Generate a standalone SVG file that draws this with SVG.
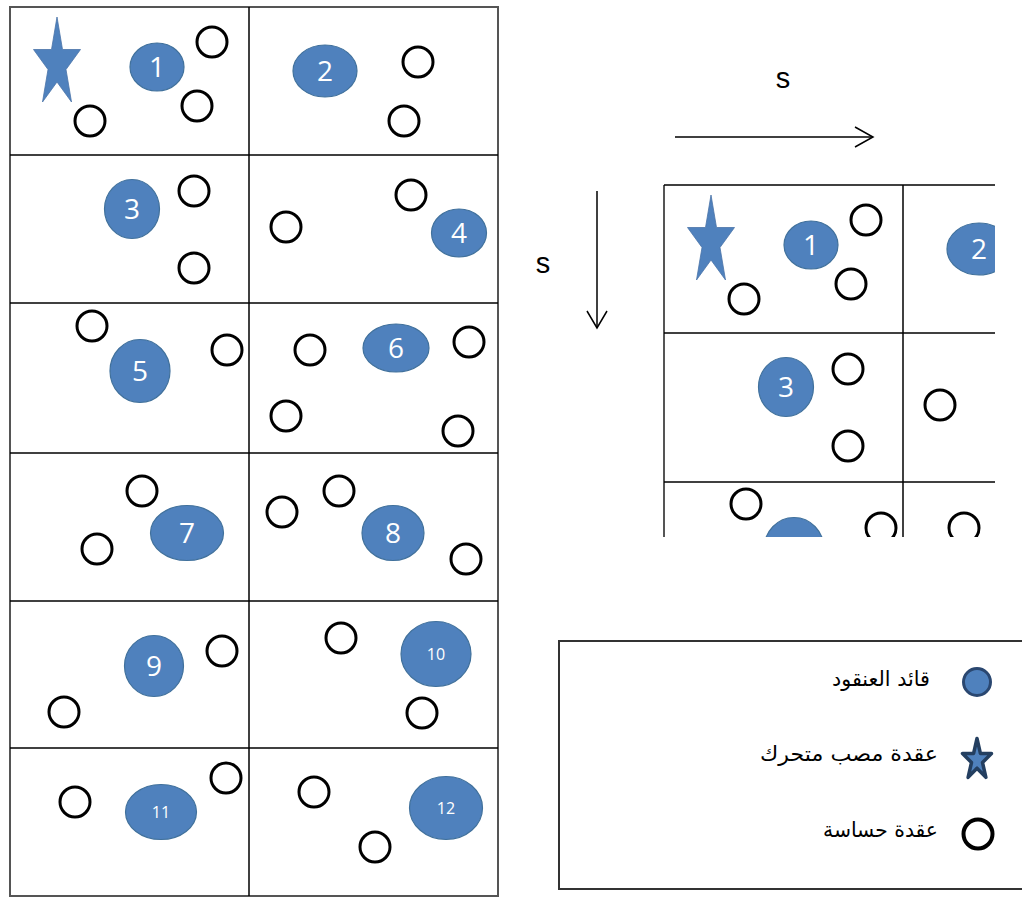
<svg xmlns="http://www.w3.org/2000/svg" width="1022" height="897" viewBox="0 0 1022 897">
<style>
.grid{stroke:#000;stroke-width:1.5;fill:none}
.outer{stroke:#555;stroke-width:2;fill:none}
.sn{fill:none;stroke:#000;stroke-width:3}
.ch{fill:#4f81bd;stroke:#41719c;stroke-width:1.2}
.mob{fill:#4f81bd;stroke:#4a74a8;stroke-width:0.8}
.num{fill:#fff;font-family:"Open Sans","Liberation Sans",sans-serif;font-size:28px;text-anchor:middle}
.num2{font-size:16px}
.lbl{fill:#000;font-family:"Liberation Sans","DejaVu Sans",sans-serif;font-size:29px;text-anchor:middle}
.ar{fill:#000;font-family:"DejaVu Sans","Liberation Sans",sans-serif;font-size:21px;text-anchor:end}
.arrow{stroke:#000;stroke-width:1.5;fill:none}
</style>
<defs>
<clipPath id="clipR"><rect x="655" y="180" width="340" height="357"/></clipPath>
</defs>
<rect width="1022" height="897" fill="#fff"/>

<!-- Left grid -->
<g id="grid-left">
<rect class="outer" x="10" y="7" width="488" height="889"/>
<line class="grid" x1="249" y1="7" x2="249" y2="896"/>
<line class="grid" x1="10" y1="155" x2="498" y2="155"/>
<line class="grid" x1="10" y1="303" x2="498" y2="303"/>
<line class="grid" x1="10" y1="453" x2="498" y2="453"/>
<line class="grid" x1="10" y1="601" x2="498" y2="601"/>
<line class="grid" x1="10" y1="748" x2="498" y2="748"/>
</g>

<g id="cell1">
<polygon class="mob" points="57,17 62.5,49.5 80.5,49.5 66,69.5 71.5,102 57,82 42.5,102 48,69.5 33.5,49.5 51.5,49.5"/>
<ellipse class="ch" cx="157" cy="67" rx="27" ry="24"/>
<text class="num" x="157" y="77">1</text>
<circle class="sn" cx="212" cy="42" r="15"/>
<circle class="sn" cx="197" cy="106" r="15"/>
<circle class="sn" cx="90" cy="121" r="15"/>
</g>
<g id="cell2">
<ellipse class="ch" cx="325" cy="71" rx="32" ry="26"/>
<text class="num" x="325" y="81">2</text>
<circle class="sn" cx="418" cy="62" r="15"/>
<circle class="sn" cx="404" cy="121" r="15"/>
</g>
<g id="cell3">
<ellipse class="ch" cx="132" cy="209" rx="27.5" ry="29.5"/>
<text class="num" x="132" y="219">3</text>
<circle class="sn" cx="194" cy="191" r="15"/>
<circle class="sn" cx="194" cy="268" r="15"/>
</g>
<g id="cell4">
<circle class="sn" cx="411" cy="195" r="15"/>
<circle class="sn" cx="286" cy="227" r="15"/>
<ellipse class="ch" cx="459" cy="233" rx="27.5" ry="24"/>
<text class="num" x="459" y="243">4</text>
</g>
<g id="cell5">
<circle class="sn" cx="92" cy="326" r="15"/>
<circle class="sn" cx="227" cy="350" r="15"/>
<ellipse class="ch" cx="140" cy="371" rx="30" ry="31.5"/>
<text class="num" x="140" y="381">5</text>
</g>
<g id="cell6">
<circle class="sn" cx="310" cy="350" r="15"/>
<circle class="sn" cx="286" cy="416" r="15"/>
<circle class="sn" cx="469" cy="342" r="15"/>
<circle class="sn" cx="458" cy="431" r="15"/>
<ellipse class="ch" cx="396" cy="348" rx="33" ry="24"/>
<text class="num" x="396" y="358">6</text>
</g>
<g id="cell7">
<circle class="sn" cx="142" cy="491" r="15"/>
<circle class="sn" cx="97" cy="549" r="15"/>
<ellipse class="ch" cx="187" cy="533" rx="36.5" ry="27.5"/>
<text class="num" x="187" y="543">7</text>
</g>
<g id="cell8">
<circle class="sn" cx="282" cy="512" r="15"/>
<circle class="sn" cx="339" cy="491" r="15"/>
<circle class="sn" cx="466" cy="559" r="15"/>
<ellipse class="ch" cx="393" cy="533" rx="31" ry="27.5"/>
<text class="num" x="393" y="543">8</text>
</g>
<g id="cell9">
<ellipse class="ch" cx="154" cy="666" rx="29.5" ry="30.5"/>
<text class="num" x="154" y="676">9</text>
<circle class="sn" cx="222" cy="651" r="15"/>
<circle class="sn" cx="64" cy="712" r="15"/>
</g>
<g id="cell10">
<circle class="sn" cx="341" cy="638" r="15"/>
<circle class="sn" cx="422" cy="713" r="15"/>
<ellipse class="ch" cx="436" cy="654" rx="35" ry="32.5"/>
<text class="num num2" x="436" y="660">10</text>
</g>
<g id="cell11">
<circle class="sn" cx="75" cy="802" r="15"/>
<circle class="sn" cx="226" cy="778" r="15"/>
<ellipse class="ch" cx="161" cy="812" rx="35.5" ry="27.5"/>
<text class="num num2" x="161" y="818">11</text>
</g>
<g id="cell12">
<circle class="sn" cx="314" cy="792" r="15"/>
<circle class="sn" cx="375" cy="847" r="15"/>
<ellipse class="ch" cx="446" cy="808" rx="36.5" ry="31.5"/>
<text class="num num2" x="446" y="814">12</text>
</g>

<!-- Right zoomed grid -->
<g id="grid-right" clip-path="url(#clipR)">
<line class="outer" x1="664" y1="185" x2="664" y2="540"/>
<line class="grid" x1="903" y1="185" x2="903" y2="540"/>
<line class="grid" x1="664" y1="185" x2="1000" y2="185"/>
<line class="grid" x1="664" y1="333" x2="1000" y2="333"/>
<line class="grid" x1="664" y1="482" x2="1000" y2="482"/>
<g id="r-cell1">
<polygon class="mob" points="711,195 716.5,227.5 734.5,227.5 720,247.5 725.5,280 711,260 696.5,280 702,247.5 687.5,227.5 705.5,227.5"/>
<ellipse class="ch" cx="811" cy="245" rx="27" ry="24"/>
<text class="num" x="811" y="255">1</text>
<circle class="sn" cx="866" cy="220" r="15"/>
<circle class="sn" cx="851" cy="284" r="15"/>
<circle class="sn" cx="744" cy="299" r="15"/>
</g>
<g id="r-cell2">
<ellipse class="ch" cx="979" cy="249" rx="32" ry="26"/>
<text class="num" x="979" y="259">2</text>
</g>
<g id="r-cell3">
<ellipse class="ch" cx="786" cy="387" rx="27.5" ry="29.5"/>
<text class="num" x="786" y="397">3</text>
<circle class="sn" cx="848" cy="369" r="15"/>
<circle class="sn" cx="848" cy="446" r="15"/>
</g>
<g id="r-cell4">
<circle class="sn" cx="940" cy="405" r="15"/>
</g>
<g id="r-cell5">
<circle class="sn" cx="746" cy="504" r="15"/>
<circle class="sn" cx="881" cy="528" r="15"/>
<ellipse class="ch" cx="794" cy="549" rx="30" ry="31.5"/>
</g>
<g id="r-cell6">
<circle class="sn" cx="964" cy="528" r="15"/>
</g>
</g>

<!-- Connectors -->
<g id="connectors">
<line class="arrow" x1="675" y1="137" x2="872" y2="137"/>
<polyline class="arrow" points="855,127 873,137 855,147"/>
<line class="arrow" x1="597" y1="191" x2="597" y2="327"/>
<polyline class="arrow" points="587,311 597,328 607,311"/>
</g>
<text class="lbl" x="783" y="88">s</text>
<text class="lbl" x="543" y="273">s</text>

<!-- Legend -->
<g id="legend">
<rect x="559" y="641" width="480" height="248" fill="none" stroke="#333" stroke-width="2"/>
<g id="legend-ch">
<circle cx="977" cy="682" r="13.5" fill="#4f81bd" stroke="#2a4770" stroke-width="3"/>
<text class="ar" x="930" y="686" textLength="98" lengthAdjust="spacingAndGlyphs">قائد العنقود</text>
</g>
<g id="legend-mob">
<polygon points="977,738.5 980.4,753.4 991.5,753.4 982.5,762.5 985.9,777.4 977,768.2 968.1,777.4 971.5,762.5 962.5,753.4 973.6,753.4" fill="#4f81bd" stroke="#243f60" stroke-width="3.5" stroke-linejoin="round"/>
<text class="ar" x="938" y="761" textLength="178" lengthAdjust="spacingAndGlyphs">عقدة مصب متحرك</text>
</g>
<g id="legend-sn">
<circle cx="978" cy="834" r="14.5" fill="none" stroke="#000" stroke-width="4"/>
<text class="ar" x="938" y="837" textLength="115" lengthAdjust="spacingAndGlyphs">عقدة حساسة</text>
</g>
</g>
</svg>
